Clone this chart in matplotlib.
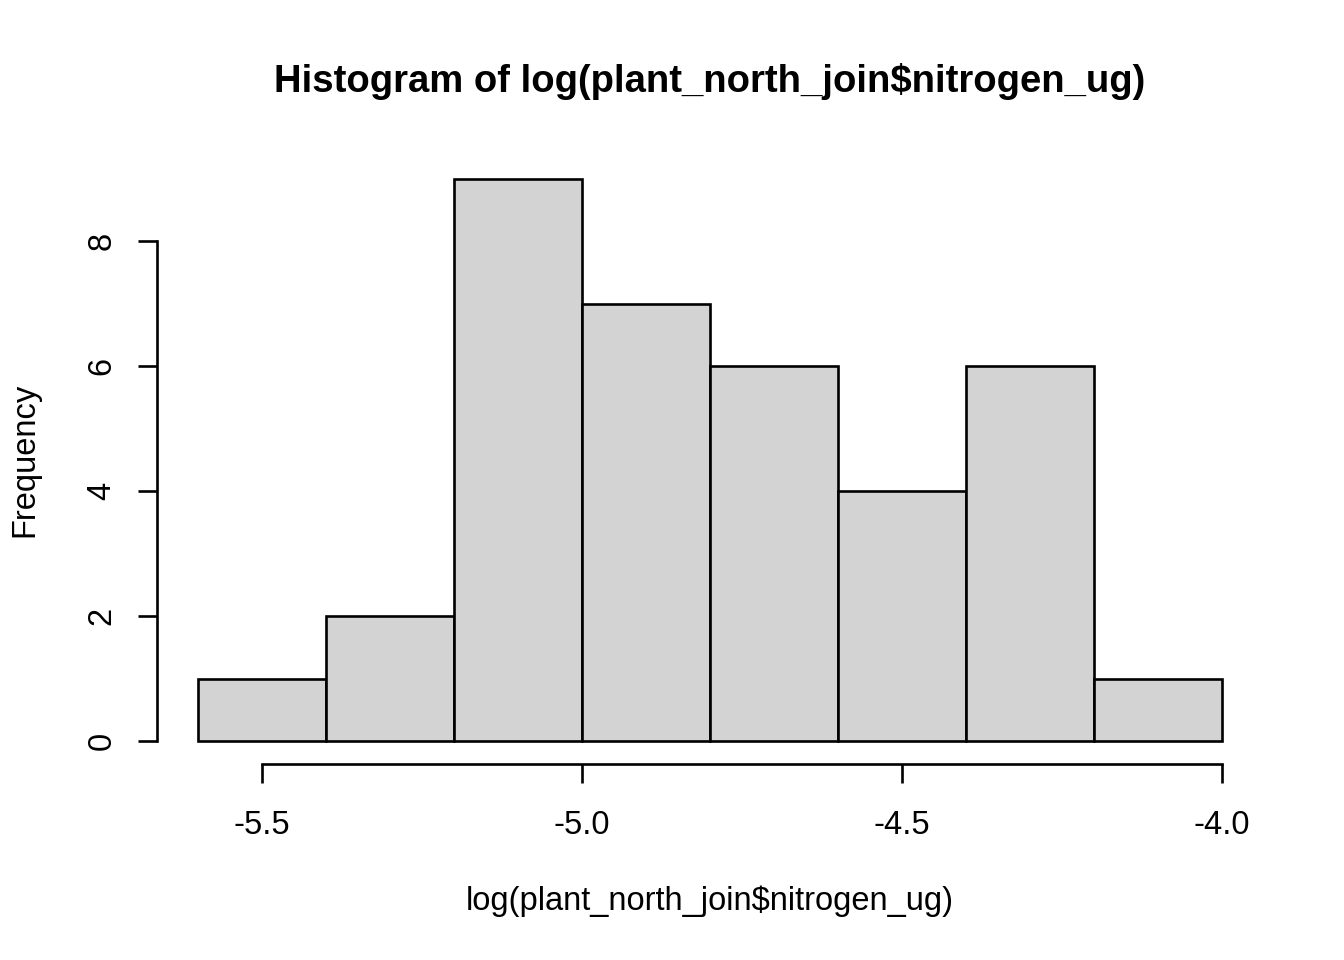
import numpy as np
import matplotlib
matplotlib.use("Agg")
import matplotlib.pyplot as plt

plt.rcParams['font.family'] = ['Liberation Sans', 'DejaVu Sans']

edges = [-5.6, -5.4, -5.2, -5.0, -4.8, -4.6, -4.4, -4.2, -4.0]
counts = [1, 2, 9, 7, 6, 4, 6, 1]
xticks = [-5.5, -5.0, -4.5, -4.0]
yticks = [0, 2, 4, 6, 8]

LW = 1.9
FS = 23.5
fig = plt.figure(figsize=(13.44, 9.6), dpi=100)
ax = fig.add_axes([157/1344, 1 - 763.5/960, (1263-157)/1344, (763.5-156.5)/960])

ax.bar(edges[:-1], counts, width=np.diff(edges), align='edge',
       color='#d3d3d3', edgecolor='black', linewidth=LW)

# R style: 4% padding, detached axes
xr = edges[-1] - edges[0]
ax.set_xlim(edges[0] - 0.04*xr, edges[-1] + 0.04*xr)
ax.set_ylim(-0.04*max(counts), max(counts)*1.04)

for s in ['top', 'right']:
    ax.spines[s].set_visible(False)
ax.spines['left'].set_bounds(yticks[0], yticks[-1])
ax.spines['bottom'].set_bounds(xticks[0], xticks[-1])
for s in ['left', 'bottom']:
    ax.spines[s].set_linewidth(LW)
    ax.spines[s].set_capstyle('projecting')

ax.set_xticks(xticks)
ax.set_xticklabels([f"{v:.1f}" for v in xticks])
ax.set_yticks(yticks)
ax.set_yticklabels([str(v) for v in yticks], rotation=90, va='center')
ax.tick_params(axis='both', length=13.5, width=LW, labelsize=FS)
ax.tick_params(axis='x', pad=20)
ax.tick_params(axis='y', pad=15)

fig.text(710/1344, 1 - 81/960, "Histogram of log(plant_north_join$nitrogen_ug)",
         ha='center', va='center', fontsize=27.5, fontweight='bold')
fig.text(710/1344, 1 - 901/960, "log(plant_north_join$nitrogen_ug)",
         ha='center', va='center', fontsize=FS)
fig.text(25/1344, 1 - 460/960, "Frequency", rotation=90,
         ha='center', va='center', fontsize=FS)

fig.savefig("out.png", dpi=100)
